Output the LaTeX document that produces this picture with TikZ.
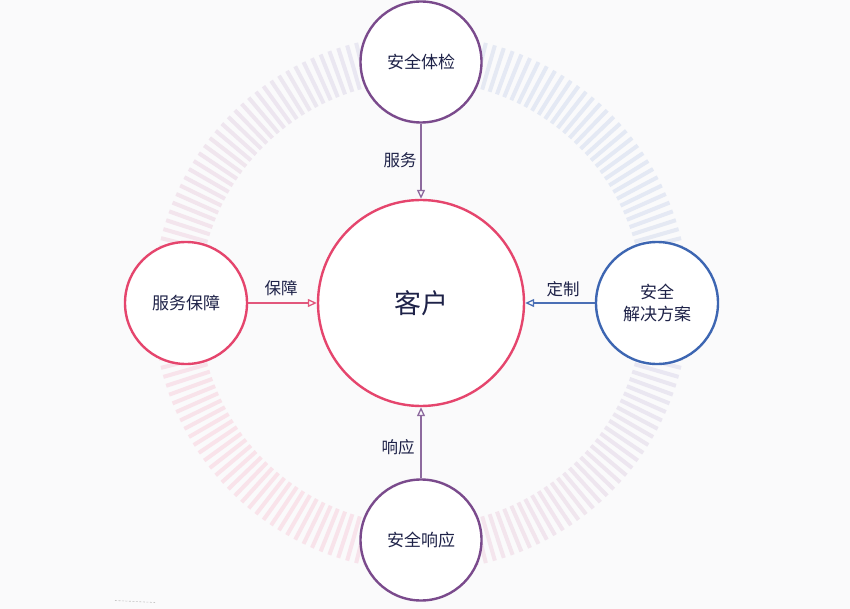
\documentclass[tikz,border=0pt]{standalone}
\usepackage{fontspec}
\setmainfont{Noto Sans CJK SC}
\usetikzlibrary{arrows.meta}
\definecolor{bg}{HTML}{FAFAFB}
\definecolor{ringpink}{HTML}{F9E3EA}
\definecolor{ringblue}{HTML}{E4E9F4}
\definecolor{cred}{HTML}{E5456D}
\definecolor{cpurple}{HTML}{7A4A8C}
\definecolor{cblue}{HTML}{3D66B2}
\definecolor{lred}{HTML}{E2577C}
\definecolor{lpurple}{HTML}{8D6A9E}
\definecolor{lblue}{HTML}{4A6FB5}
\definecolor{txt}{HTML}{1E2248}
\tikzset{
  bubble/.style={circle, line width=2.4pt, fill=white, inner sep=0pt, text=txt,
     font=\fontsize{17}{22}\selectfont, align=center},
  lbl/.style={text=txt, font=\fontsize{16.5}{20}\selectfont, inner sep=0pt},
  conn/.style={line width=1.3pt, -{Triangle[open,length=9pt,width=8pt]}}
}
\begin{document}
\begin{tikzpicture}[x=1pt,y=-1pt]
\fill[bg] (0,0) rectangle (850,609);
\useasboundingbox (0,0) rectangle (850,609);
% striped ring
\foreach \a in {0,2,...,358}{
  \pgfmathtruncatemacro\t{50+50*cos(\a-135)}
  \draw[line width=4pt, color=ringpink!\t!ringblue] (421,303) ++(\a:222) -- ++(\a:46);
}
% nodes
\node[bubble, draw=cred, minimum size=206pt, font=\fontsize{27}{30}\selectfont] (c) at (421,303) {客户};
\node[bubble, draw=cpurple, minimum size=121pt] (t) at (421,62) {安全体检};
\node[bubble, draw=cred, minimum size=122pt] (l) at (186,303) {服务保障};
\node[bubble, draw=cblue, minimum size=122pt] (r) at (657,303) {安全\\解决方案};
\node[bubble, draw=cpurple, minimum size=121pt] (b) at (421,540) {安全响应};
% connectors
\draw[conn, lpurple] (t) -- (c);
\draw[conn, lred] (l) -- (c);
\draw[conn, lblue] (r) -- (c);
\draw[conn, lpurple] (b) -- (c);
% labels
\node[lbl] (lt) at (400,160) {服务};
\node[lbl] (ll) at (281,288) {保障};
\node[lbl] (lr) at (563,289) {定制};
\node[lbl] (lb) at (398,447) {响应};
% small artifact
\draw[gray!45, dash pattern=on 2pt off 1.5pt, line width=0.6pt] (115,600.5) -- (155,602.5);
\end{tikzpicture}
\end{document}
